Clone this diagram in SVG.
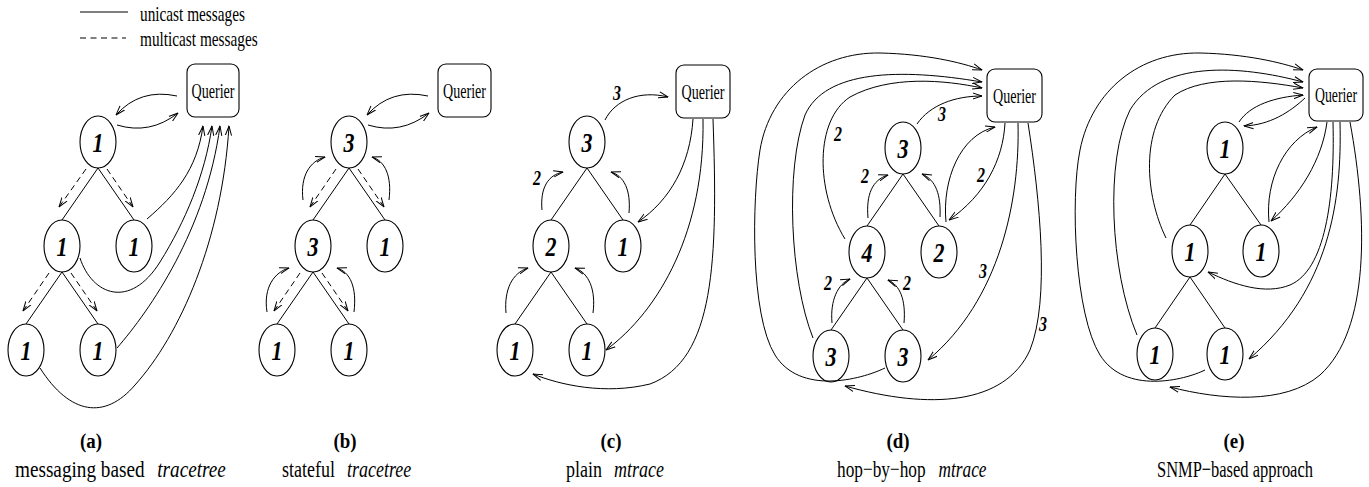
<svg xmlns="http://www.w3.org/2000/svg" width="1369" height="487" viewBox="0 0 1369 487">
<style>
.bg{fill:#fff}
.n{fill:#fff;stroke:#000;stroke-width:1.1}
.e{fill:none;stroke:#000;stroke-width:1}
.a{fill:none;stroke:#000;stroke-width:1;marker-end:url(#ah)}
.d{fill:none;stroke:#000;stroke-width:1;stroke-dasharray:6 4;marker-end:url(#ah)}
.ld{fill:none;stroke:#000;stroke-width:1;stroke-dasharray:6 4.5}
text{font-family:'Liberation Serif','Times New Roman',serif;fill:#000}
.num{font-size:27px;font-weight:bold;font-style:italic;text-anchor:middle}
.lab{font-size:20px;font-weight:bold;font-style:italic;text-anchor:middle}
.q{font-size:20px;text-anchor:middle}
.leg{font-size:20px}
.cap{font-size:24px}
.it{font-style:italic}
.pl{font-size:22px;font-weight:bold;text-anchor:middle}
</style>
<defs>
<marker id="ah" viewBox="0 0 10 8" refX="9.5" refY="4" markerWidth="10" markerHeight="8" markerUnits="userSpaceOnUse" orient="auto">
<path d="M0,0.9 L9.5,4 L0,7.1" fill="none" stroke="#000" stroke-width="1"/>
</marker>
</defs>
<rect class="bg" x="0" y="0" width="1369" height="487"/>

<g id="legend">
<line class="e" x1="80" y1="12" x2="128" y2="12"/>
<text class="leg" transform="translate(140,21) scale(0.765,1)">unicast messages</text>
<line class="ld" x1="80" y1="38" x2="126" y2="38"/>
<text class="leg" transform="translate(140,46) scale(0.765,1)">multicast messages</text>
</g>

<!-- ===== Panel (a) ===== -->
<g id="a-querier"><rect class="n" x="187" y="64" width="52" height="53" rx="8"/><text class="q" transform="translate(213,97.5) scale(0.705,1)">Querier</text></g>
<g id="a-top"><ellipse class="n" cx="98" cy="142" rx="18" ry="26"/><text class="num" x="98" y="151.5" textLength="11" lengthAdjust="spacingAndGlyphs">1</text></g>
<g id="a-ml"><ellipse class="n" cx="62" cy="246" rx="18" ry="26"/><text class="num" x="62" y="255.5" textLength="11" lengthAdjust="spacingAndGlyphs">1</text></g>
<g id="a-mr"><ellipse class="n" cx="134" cy="246" rx="18" ry="26"/><text class="num" x="134" y="255.5" textLength="11" lengthAdjust="spacingAndGlyphs">1</text></g>
<g id="a-bl"><ellipse class="n" cx="26" cy="350" rx="18" ry="26"/><text class="num" x="26" y="359.5" textLength="11" lengthAdjust="spacingAndGlyphs">1</text></g>
<g id="a-br"><ellipse class="n" cx="98" cy="350" rx="18" ry="26"/><text class="num" x="98" y="359.5" textLength="11" lengthAdjust="spacingAndGlyphs">1</text></g>

<!-- ===== Panel (b) ===== -->
<g id="b-querier"><rect class="n" x="438" y="64" width="53" height="53" rx="8"/><text class="q" transform="translate(464.5,97.5) scale(0.705,1)">Querier</text></g>
<g id="b-top"><ellipse class="n" cx="349" cy="142" rx="18" ry="26"/><text class="num" x="349" y="151.5" textLength="11" lengthAdjust="spacingAndGlyphs">3</text></g>
<g id="b-ml"><ellipse class="n" cx="313" cy="246" rx="18" ry="26"/><text class="num" x="313" y="255.5" textLength="11" lengthAdjust="spacingAndGlyphs">3</text></g>
<g id="b-mr"><ellipse class="n" cx="385" cy="246" rx="18" ry="26"/><text class="num" x="385" y="255.5" textLength="11" lengthAdjust="spacingAndGlyphs">1</text></g>
<g id="b-bl"><ellipse class="n" cx="277" cy="350" rx="18" ry="26"/><text class="num" x="277" y="359.5" textLength="11" lengthAdjust="spacingAndGlyphs">1</text></g>
<g id="b-br"><ellipse class="n" cx="349" cy="350" rx="18" ry="26"/><text class="num" x="349" y="359.5" textLength="11" lengthAdjust="spacingAndGlyphs">1</text></g>

<!-- ===== Panel (c) ===== -->
<g id="c-querier"><rect class="n" x="676" y="65" width="54" height="53" rx="8"/><text class="q" transform="translate(703,98.5) scale(0.705,1)">Querier</text></g>
<g id="c-top"><ellipse class="n" cx="587" cy="142" rx="18" ry="26"/><text class="num" x="587" y="151.5" textLength="11" lengthAdjust="spacingAndGlyphs">3</text></g>
<g id="c-ml"><ellipse class="n" cx="551" cy="246" rx="18" ry="26"/><text class="num" x="551" y="255.5" textLength="11" lengthAdjust="spacingAndGlyphs">2</text></g>
<g id="c-mr"><ellipse class="n" cx="623" cy="246" rx="18" ry="26"/><text class="num" x="623" y="255.5" textLength="11" lengthAdjust="spacingAndGlyphs">1</text></g>
<g id="c-bl"><ellipse class="n" cx="515" cy="350" rx="18" ry="26"/><text class="num" x="515" y="359.5" textLength="11" lengthAdjust="spacingAndGlyphs">1</text></g>
<g id="c-br"><ellipse class="n" cx="587" cy="350" rx="18" ry="26"/><text class="num" x="587" y="359.5" textLength="11" lengthAdjust="spacingAndGlyphs">1</text></g>

<!-- ===== Panel (d) ===== -->
<g id="d-querier"><rect class="n" x="987" y="69" width="55" height="53" rx="8"/><text class="q" transform="translate(1014.5,102.5) scale(0.705,1)">Querier</text></g>
<g id="d-top"><ellipse class="n" cx="903" cy="148" rx="18" ry="26"/><text class="num" x="903" y="157.5" textLength="11" lengthAdjust="spacingAndGlyphs">3</text></g>
<g id="d-ml"><ellipse class="n" cx="867" cy="252" rx="18" ry="26"/><text class="num" x="867" y="261.5" textLength="11" lengthAdjust="spacingAndGlyphs">4</text></g>
<g id="d-mr"><ellipse class="n" cx="939" cy="252" rx="18" ry="26"/><text class="num" x="939" y="261.5" textLength="11" lengthAdjust="spacingAndGlyphs">2</text></g>
<g id="d-bl"><ellipse class="n" cx="831" cy="356" rx="18" ry="26"/><text class="num" x="831" y="365.5" textLength="11" lengthAdjust="spacingAndGlyphs">3</text></g>
<g id="d-br"><ellipse class="n" cx="903" cy="356" rx="18" ry="26"/><text class="num" x="903" y="365.5" textLength="11" lengthAdjust="spacingAndGlyphs">3</text></g>

<!-- ===== Panel (e) ===== -->
<g id="e-querier"><rect class="n" x="1309" y="69" width="54" height="52" rx="8"/><text class="q" transform="translate(1336,102) scale(0.69,1)">Querier</text></g>
<g id="e-top"><ellipse class="n" cx="1225" cy="148" rx="18" ry="26"/><text class="num" x="1225" y="157.5" textLength="11" lengthAdjust="spacingAndGlyphs">1</text></g>
<g id="e-ml"><ellipse class="n" cx="1190" cy="251" rx="18" ry="26"/><text class="num" x="1190" y="260.5" textLength="11" lengthAdjust="spacingAndGlyphs">1</text></g>
<g id="e-mr"><ellipse class="n" cx="1261" cy="251" rx="18" ry="26"/><text class="num" x="1261" y="260.5" textLength="11" lengthAdjust="spacingAndGlyphs">1</text></g>
<g id="e-bl"><ellipse class="n" cx="1155" cy="354" rx="18" ry="26"/><text class="num" x="1155" y="363.5" textLength="11" lengthAdjust="spacingAndGlyphs">1</text></g>
<g id="e-br"><ellipse class="n" cx="1225" cy="354" rx="18" ry="26"/><text class="num" x="1225" y="363.5" textLength="11" lengthAdjust="spacingAndGlyphs">1</text></g>

<g id="connectors">
<!-- (a) tree edges -->
<path class="e" d="M98,168 L62,220 M98,168 L134,220 M62,272 L26,324 M62,272 L98,324"/>
<!-- (a) multicast -->
<path class="d" d="M86,169 L59,207"/>
<path class="d" d="M107,169 L133,207"/>
<path class="d" d="M49,273 L23,311"/>
<path class="d" d="M71,273 L97,311"/>
<!-- (a) unicast -->
<path class="a" d="M177,96 Q140,88 116,115"/>
<path class="a" d="M117,125 Q150,135 178,113"/>
<path class="a" d="M147,219 C175,195 197,170 203,126"/>
<path class="a" d="M80,258 C92,295 130,310 160,262 C185,222 205,175 212,126"/>
<path class="a" d="M117,348 C150,310 206,230 220,126"/>
<path class="a" d="M40,368 C70,415 105,420 135,385 C180,335 222,240 229,126"/>

<!-- (b) tree edges -->
<path class="e" d="M349,168 L313,220 M349,168 L385,220 M313,272 L277,324 M313,272 L349,324"/>
<!-- (b) multicast -->
<path class="d" d="M336,169 L310,207"/>
<path class="d" d="M358,169 L384,207"/>
<path class="d" d="M300,273 L274,311"/>
<path class="d" d="M322,273 L348,311"/>
<!-- (b) unicast -->
<path class="a" d="M428,96 Q391,88 367,115"/>
<path class="a" d="M368,125 Q401,135 429,113"/>
<path class="a" d="M303,200 C300,176 310,161 325,157"/>
<path class="a" d="M389,200 C392,176 385,161 372,157"/>
<path class="a" d="M267,312 C263,287 275,272 289,268"/>
<path class="a" d="M354,312 C357,287 350,272 337,268"/>

<!-- (c) tree edges -->
<path class="e" d="M587,168 L551,220 M587,168 L623,220 M551,272 L515,324 M551,272 L587,324"/>
<!-- (c) unicast -->
<path class="a" d="M605,120 C615,100 640,90 668,97"/>
<path class="a" d="M542,210 C540,188 548,175 563,172"/>
<path class="a" d="M629,213 C631,190 624,176 611,172"/>
<path class="a" d="M506,313 C504,290 512,273 528,268"/>
<path class="a" d="M593,313 C596,290 589,273 575,268"/>
<path class="a" d="M693,119 C690,165 670,200 638,222"/>
<path class="a" d="M703,119 C705,230 660,310 606,350"/>
<path class="a" d="M713,119 C718,260 715,360 650,384 C605,395 560,385 533,374"/>

<!-- (d) tree edges -->
<path class="e" d="M903,174 L867,226 M903,174 L939,226 M867,278 L831,330 M867,278 L903,330"/>
<!-- (d) unicast -->
<path class="a" d="M917,124 C930,105 955,96 982,96"/>
<path class="a" d="M845,239 C815,190 815,120 850,97 C890,75 945,80 982,88"/>
<path class="a" d="M813,338 C790,280 785,170 805,115 C825,70 900,68 982,82"/>
<path class="a" d="M885,368 C860,380 800,395 775,355 C750,315 752,200 760,150 C770,90 820,52 880,53 C925,54 960,62 982,70"/>
<path class="a" d="M946,222 C942,180 960,135 995,127"/>
<path class="a" d="M1005,123 C1003,160 985,195 949,220"/>
<path class="a" d="M1018,123 C1020,200 1000,300 928,360"/>
<path class="a" d="M1028,123 C1040,200 1050,300 1030,350 C1005,405 930,410 845,386"/>
<path class="a" d="M832,323 C830,300 838,284 850,279"/>
<path class="a" d="M904,323 C906,300 900,285 888,280"/>
<path class="a" d="M868,218 C866,195 872,180 888,175"/>
<path class="a" d="M940,217 C941,195 936,180 922,174"/>

<!-- (e) tree edges -->
<path class="e" d="M1225,174 L1190,225 M1225,174 L1261,225 M1190,277 L1155,328 M1190,277 L1225,328"/>
<!-- (e) unicast -->
<path class="a" d="M1239,122 C1250,105 1275,97 1303,95"/>
<path class="a" d="M1305,98 C1290,112 1270,125 1244,126"/>
<path class="a" d="M1166,238 C1145,195 1140,130 1175,95 C1205,75 1260,80 1303,88"/>
<path class="a" d="M1137,335 C1110,270 1105,160 1130,110 C1160,60 1240,65 1303,82"/>
<path class="a" d="M1205,370 C1185,380 1125,395 1100,355 C1075,315 1070,200 1080,150 C1092,90 1140,52 1200,53 C1245,54 1280,62 1303,70"/>
<path class="a" d="M1269,222 C1265,180 1285,140 1317,127"/>
<path class="a" d="M1327,122 C1322,160 1300,195 1271,221"/>
<path class="a" d="M1333,122 C1335,200 1325,270 1290,285 C1265,295 1235,285 1208,272"/>
<path class="a" d="M1340,122 C1342,200 1330,290 1249,359"/>
<path class="a" d="M1350,122 C1368,220 1370,330 1320,375 C1285,405 1220,400 1170,387"/>
</g>

<g id="edge-labels">
<text class="lab" x="617" y="100" textLength="8" lengthAdjust="spacingAndGlyphs">3</text>
<text class="lab" x="537" y="185" textLength="8" lengthAdjust="spacingAndGlyphs">2</text>
<text class="lab" x="942" y="121" textLength="8" lengthAdjust="spacingAndGlyphs">3</text>
<text class="lab" x="838" y="141" textLength="8" lengthAdjust="spacingAndGlyphs">2</text>
<text class="lab" x="865" y="183" textLength="8" lengthAdjust="spacingAndGlyphs">2</text>
<text class="lab" x="981" y="182" textLength="8" lengthAdjust="spacingAndGlyphs">2</text>
<text class="lab" x="828" y="290" textLength="8" lengthAdjust="spacingAndGlyphs">2</text>
<text class="lab" x="907" y="290" textLength="8" lengthAdjust="spacingAndGlyphs">2</text>
<text class="lab" x="983" y="278" textLength="8" lengthAdjust="spacingAndGlyphs">3</text>
<text class="lab" x="1043" y="331" textLength="8" lengthAdjust="spacingAndGlyphs">3</text>
</g>

<g id="captions">
<text class="pl" transform="translate(91,448) scale(0.86,1)">(a)</text>
<text class="cap" transform="translate(15,477) scale(0.8,1)">messaging based<tspan class="it" dx="16">tracetree</tspan></text>
<text class="pl" transform="translate(345,448) scale(0.86,1)">(b)</text>
<text class="cap" transform="translate(282,477) scale(0.75,1)">stateful<tspan class="it" dx="16">tracetree</tspan></text>
<text class="pl" transform="translate(611,448) scale(0.86,1)">(c)</text>
<text class="cap" transform="translate(566,477) scale(0.75,1)">plain<tspan class="it" dx="16">mtrace</tspan></text>
<text class="pl" transform="translate(898,448) scale(0.86,1)">(d)</text>
<text class="cap" transform="translate(837,477) scale(0.72,1)">hop−by−hop<tspan class="it" dx="18">mtrace</tspan></text>
<text class="pl" transform="translate(1234,448) scale(0.86,1)">(e)</text>
<text class="cap" transform="translate(1157,477) scale(0.686,1)">SNMP−based approach</text>
</g>
</svg>
